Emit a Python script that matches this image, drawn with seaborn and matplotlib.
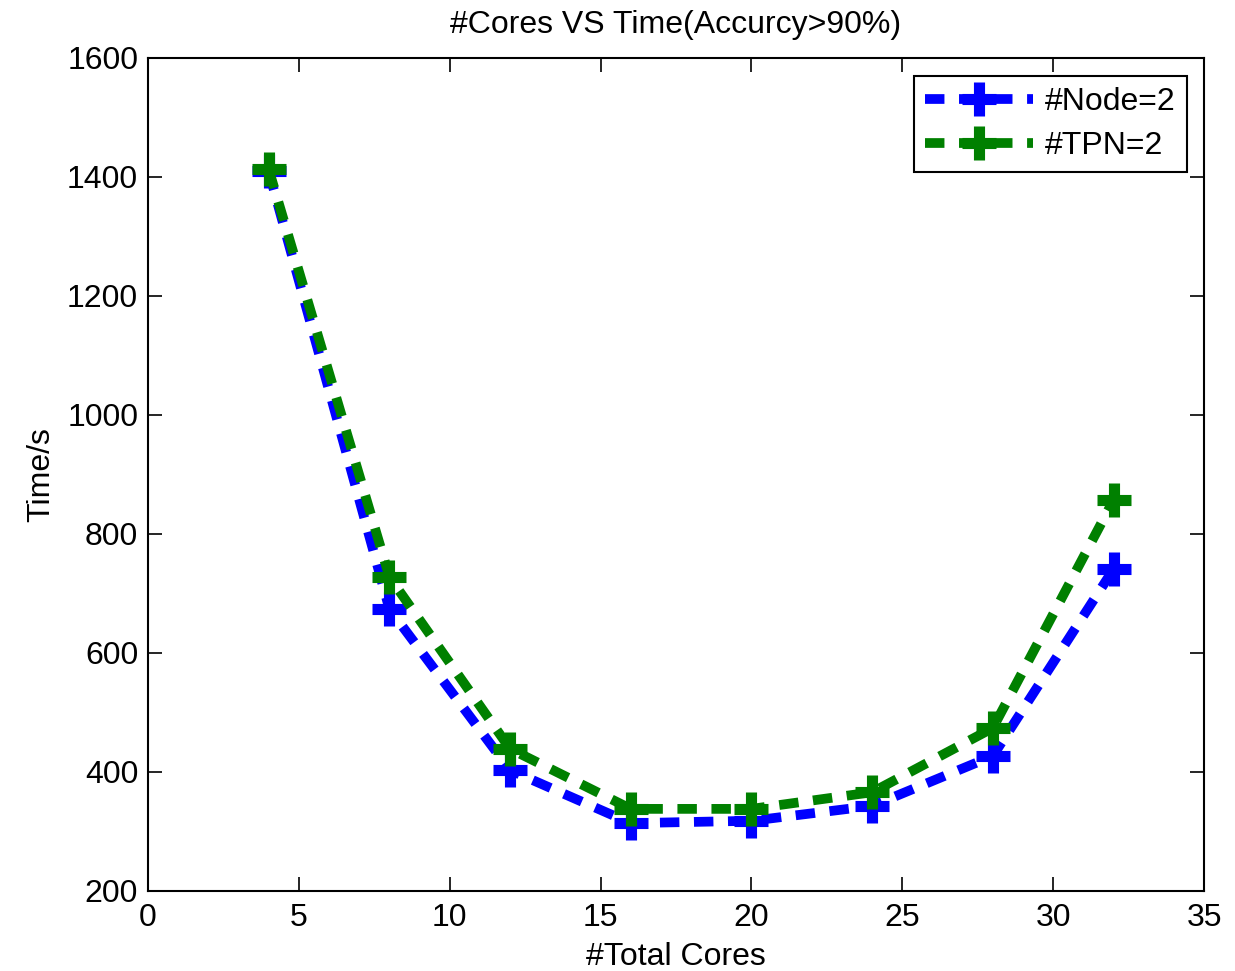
import matplotlib
matplotlib.use("Agg")
import matplotlib.pyplot as plt
import seaborn as sns
import pandas as pd

cores = [4, 8, 12, 16, 20, 24, 28, 32]
node2 = [1410, 674, 403, 314, 318, 343, 427, 741]
tpn2 = [1413, 728, 439, 338, 338, 366, 474, 857]
series_names = ["#Node=2", "#TPN=2"]
colors = ["#0000FF", "#008000"]
x_ticks = [0, 5, 10, 15, 20, 25, 30, 35]
y_ticks = [200, 400, 600, 800, 1000, 1200, 1400, 1600]

sns.set_style("white")
plt.rcParams['font.family'] = ['Liberation Sans', 'DejaVu Sans']
plt.rcParams['text.color'] = 'black'
plt.rcParams['axes.labelcolor'] = 'black'
FS = 23

df = pd.DataFrame({
    "cores": cores * 2,
    "time": node2 + tpn2,
    "series": [series_names[0]] * len(cores) + [series_names[1]] * len(cores),
})

fig = plt.figure(figsize=(12.35, 9.71), dpi=100)
ax = fig.add_axes([0.1198, 0.0824, 0.975 - 0.1198, 0.9403 - 0.0824])

sns.lineplot(data=df, x="cores", y="time", hue="series",
             palette=dict(zip(series_names, colors)), ax=ax,
             marker="+", markersize=24, markeredgewidth=8,
             linewidth=7, dashes=False, sort=False, legend=False)
for line, c, name in zip(ax.get_lines(), colors, series_names):
    line.set_linestyle((0, (2.0, 1.5)))
    line.set_markeredgecolor(c)
    line.set_markerfacecolor(c)
    line.set_label(name)

ax.set_xlim(0, 35)
ax.set_ylim(200, 1600)
ax.set_xticks(x_ticks)
ax.set_yticks(y_ticks)
ax.tick_params(direction="in", length=10, width=1.2, top=True, right=True,
               bottom=True, left=True, labelsize=FS, colors="black")
ax.tick_params(axis="x", pad=9)
ax.tick_params(axis="y", pad=7)
for s in ax.spines.values():
    s.set_linewidth(1.5)
    s.set_color("black")

ax.set_xlabel("#Total Cores", fontsize=FS, labelpad=6)
ax.set_ylabel("Time/s", fontsize=FS, labelpad=8)
ax.set_title("#Cores VS Time(Accurcy>90%)", fontsize=FS, pad=18)

leg = ax.legend(loc="upper right", fontsize=FS, frameon=True, fancybox=False,
                edgecolor="black", handlelength=3.4, borderpad=0.35,
                labelspacing=0.45, handletextpad=0.35, borderaxespad=0.55)
leg.get_frame().set_linewidth(1.5)
leg.get_frame().set_alpha(1)
for t in leg.get_texts():
    t.set_color("black")

fig.savefig("out.png", dpi=100)
